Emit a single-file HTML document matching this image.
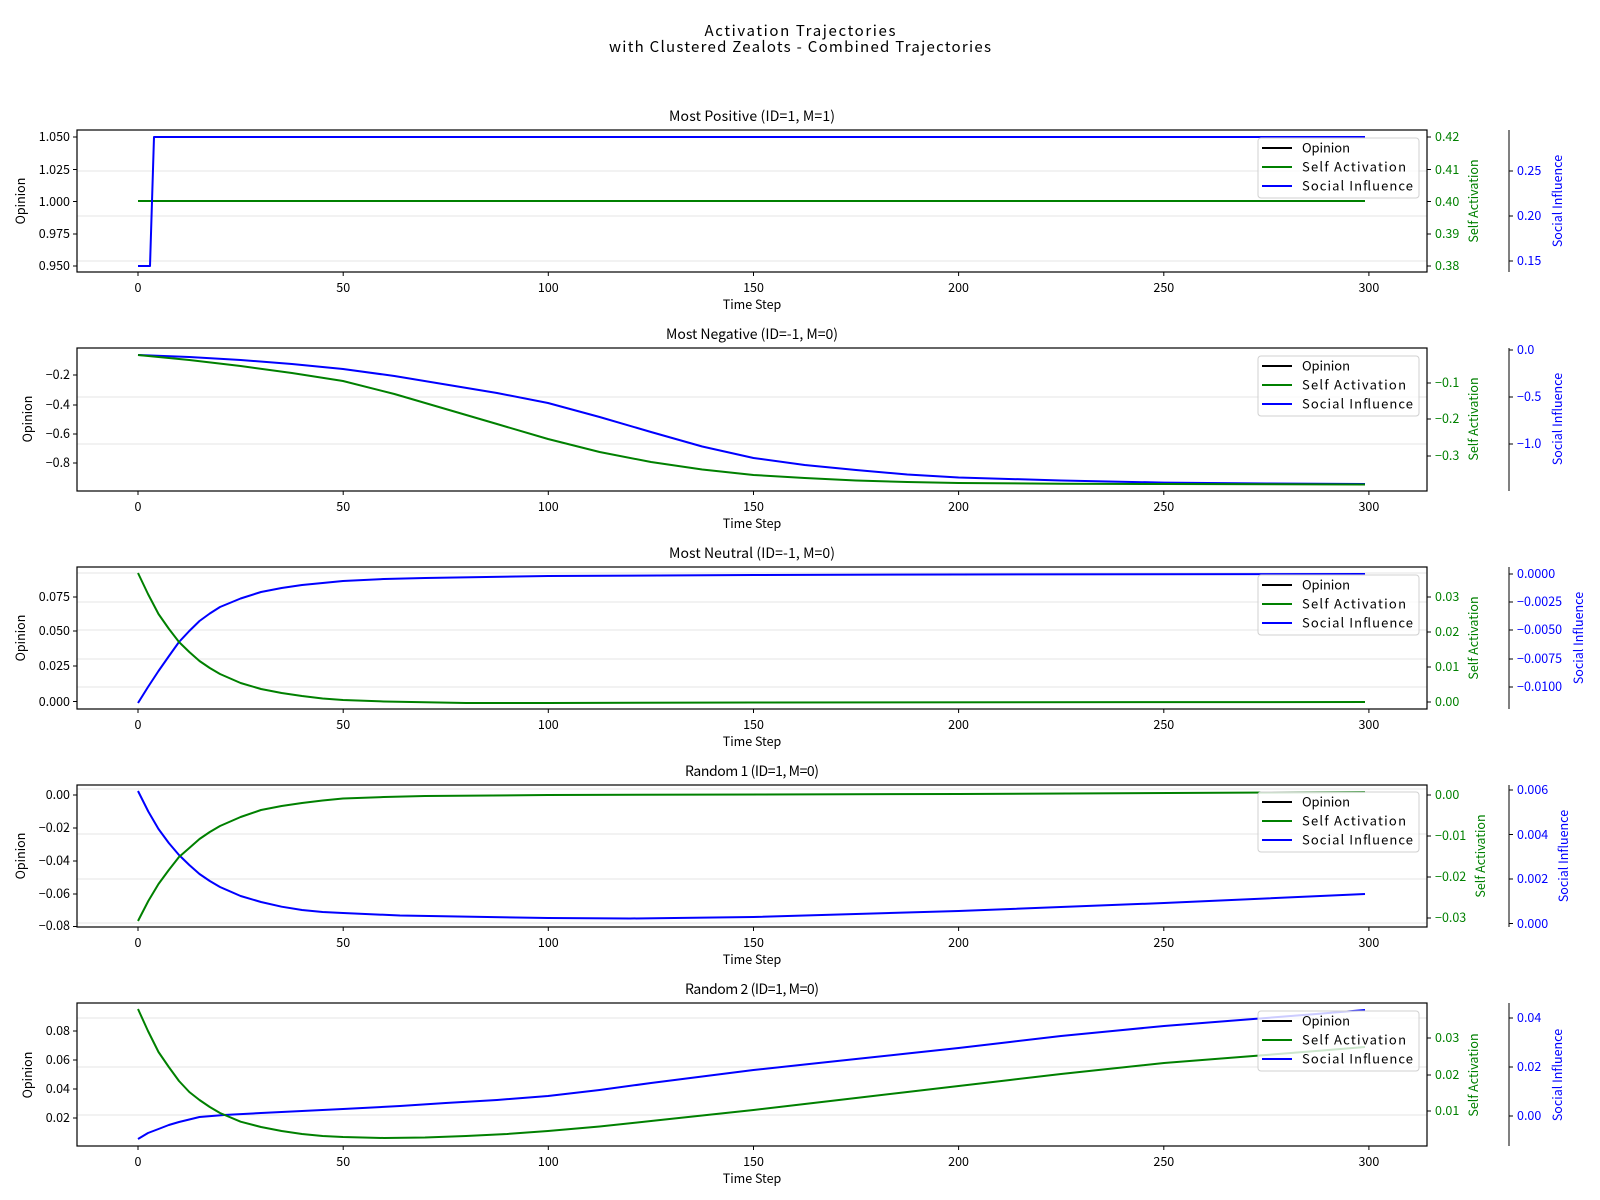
<!DOCTYPE html>
<html><head><meta charset="utf-8"><style>
html,body{margin:0;padding:0;background:#fff;}
svg{display:block;font-family:"WenQuanYi Zen Hei","Noto Sans CJK SC",sans-serif;}
.t{font-size:12.5px;fill:#000;}
.g{font-size:12.5px;fill:#008000;}
.b{font-size:12.5px;fill:#0000ff;}
.grid{stroke:#e6e6e6;stroke-width:1;}
.ax{fill:none;stroke:#000;stroke-width:1.2;}
.tk{stroke:#000;stroke-width:1;}
.cg{fill:none;stroke:#008000;stroke-width:2;stroke-linejoin:round;}
.cb{fill:none;stroke:#0000ff;stroke-width:2;stroke-linejoin:round;}
.leg{font-size:13px;fill:#000;}
</style></head><body>
<svg width="1600" height="1200" viewBox="0 0 1600 1200" xmlns="http://www.w3.org/2000/svg">
<text x="800" y="36" text-anchor="middle" style="font-size:15px" textLength="191">Activation Trajectories</text>
<text x="800" y="52" text-anchor="middle" style="font-size:15px" textLength="382">with Clustered Zealots - Combined Trajectories</text>

<!-- ================= PANEL 1 ================= -->
<g>
<line class="grid" x1="77" x2="1427" y1="171" y2="171"/><line class="grid" x1="77" x2="1427" y1="216" y2="216"/><line class="grid" x1="77" x2="1427" y1="261" y2="261"/>
<path class="cg" d="M138,201 L1365,201"/>
<path class="cb" d="M138,266 L150,266 L154,137 L1365,137"/>
<rect x="77" y="130" width="1350" height="142" class="ax"/>
<text x="752" y="121" text-anchor="middle" style="font-size:14px" textLength="166">Most Positive (ID=1, M=1)</text>
<g class="tk"><line x1="73" x2="77" y1="137" y2="137"/><line x1="73" x2="77" y1="169.5" y2="169.5"/><line x1="73" x2="77" y1="201.5" y2="201.5"/><line x1="73" x2="77" y1="234" y2="234"/><line x1="73" x2="77" y1="266" y2="266"/></g>
<g class="t" text-anchor="end"><text x="70" y="141">1.050</text><text x="70" y="174">1.025</text><text x="70" y="206">1.000</text><text x="70" y="238">0.975</text><text x="70" y="270">0.950</text></g>
<text class="t" transform="translate(25,201) rotate(-90)" text-anchor="middle">Opinion</text>
<g class="tk"><line x1="1427" x2="1431" y1="137" y2="137"/><line x1="1427" x2="1431" y1="169.5" y2="169.5"/><line x1="1427" x2="1431" y1="201.5" y2="201.5"/><line x1="1427" x2="1431" y1="234" y2="234"/><line x1="1427" x2="1431" y1="266" y2="266"/></g>
<g class="g"><text x="1435" y="141">0.42</text><text x="1435" y="174">0.41</text><text x="1435" y="206">0.40</text><text x="1435" y="238">0.39</text><text x="1435" y="270">0.38</text></g>
<text class="g" transform="translate(1478,201) rotate(-90)" text-anchor="middle">Self Activation</text>
<line class="tk" x1="1509" x2="1509" y1="130" y2="272"/>
<g class="tk"><line x1="1509" x2="1513" y1="171" y2="171"/><line x1="1509" x2="1513" y1="216" y2="216"/><line x1="1509" x2="1513" y1="261" y2="261"/></g>
<g class="b"><text x="1517" y="175">0.25</text><text x="1517" y="220">0.20</text><text x="1517" y="265">0.15</text></g>
<text class="b" transform="translate(1562,201) rotate(-90)" text-anchor="middle">Social Influence</text>
</g>

<!-- ================= PANEL 2 ================= -->
<g>
<line class="grid" x1="77" x2="1427" y1="397" y2="397"/><line class="grid" x1="77" x2="1427" y1="444" y2="444"/>
<polyline class="cb" points="138,355 189.3,357 240.6,360 291.9,364 343,369 394.4,376 445.7,384.5 497,393 548,403 599.6,417 651,432 702.2,446.5 753.5,458 804.7,465 856,470 907.3,474.5 958.6,477.5 1061.2,480.5 1164,482.6 1266.3,483.5 1365,484"/>
<polyline class="cg" points="138,355 189.3,360 240.6,366 291.9,373 343,381 394.4,394 445.7,409 497,424 548,439 599.6,452 651,462 702.2,469.5 753.5,475 804.7,478 856,480.5 907.3,482 958.6,483 1061.2,483.7 1164,484 1365,484.5"/>
<rect x="77" y="348" width="1350" height="143" class="ax"/>
<text x="752" y="339" text-anchor="middle" style="font-size:14px" textLength="172">Most Negative (ID=-1, M=0)</text>
<g class="tk"><line x1="73" x2="77" y1="375" y2="375"/><line x1="73" x2="77" y1="405" y2="405"/><line x1="73" x2="77" y1="434" y2="434"/><line x1="73" x2="77" y1="463" y2="463"/></g>
<g class="t" text-anchor="end"><text x="70" y="379">−0.2</text><text x="70" y="409">−0.4</text><text x="70" y="438">−0.6</text><text x="70" y="467">−0.8</text></g>
<text class="t" transform="translate(32,419) rotate(-90)" text-anchor="middle">Opinion</text>
<g class="tk"><line x1="1427" x2="1431" y1="383" y2="383"/><line x1="1427" x2="1431" y1="419" y2="419"/><line x1="1427" x2="1431" y1="456" y2="456"/></g>
<g class="g"><text x="1435" y="387">−0.1</text><text x="1435" y="423">−0.2</text><text x="1435" y="460">−0.3</text></g>
<text class="g" transform="translate(1478,419) rotate(-90)" text-anchor="middle">Self Activation</text>
<line class="tk" x1="1509" x2="1509" y1="348" y2="491"/>
<g class="tk"><line x1="1509" x2="1513" y1="350" y2="350"/><line x1="1509" x2="1513" y1="397" y2="397"/><line x1="1509" x2="1513" y1="444" y2="444"/></g>
<g class="b"><text x="1517" y="354">0.0</text><text x="1517" y="401">−0.5</text><text x="1517" y="448">−1.0</text></g>
<text class="b" transform="translate(1562,419) rotate(-90)" text-anchor="middle">Social Influence</text>
</g>

<!-- ================= PANEL 3 ================= -->
<g>
<line class="grid" x1="77" x2="1427" y1="573" y2="573"/><line class="grid" x1="77" x2="1427" y1="602" y2="602"/><line class="grid" x1="77" x2="1427" y1="630" y2="630"/><line class="grid" x1="77" x2="1427" y1="659" y2="659"/><line class="grid" x1="77" x2="1427" y1="687" y2="687"/>
<polyline class="cb" points="138,703 148,687 158.5,671 169,656 179,642 189.3,631 199.5,621 209.8,613.5 220,607 240.6,598.5 261,592 281.6,588 302,585 322.6,583 343,581 384,579 425,578 548,576 753.5,575 958.6,574.5 1365,574"/>
<polyline class="cg" points="138,573 148,594 158.5,614 169,629 179,642 189.3,652 199.5,661 209.8,668 220,674 240.6,683 261,689 281.6,693 302,696 322.6,698.5 343,700 384,701.5 466,703 548,703 753.5,702.5 1365,702"/>
<rect x="77" y="567" width="1350" height="142" class="ax"/>
<text x="752" y="558" text-anchor="middle" style="font-size:14px" textLength="166">Most Neutral (ID=-1, M=0)</text>
<g class="tk"><line x1="73" x2="77" y1="597" y2="597"/><line x1="73" x2="77" y1="631" y2="631"/><line x1="73" x2="77" y1="666" y2="666"/><line x1="73" x2="77" y1="701.5" y2="701.5"/></g>
<g class="t" text-anchor="end"><text x="70" y="601">0.075</text><text x="70" y="635">0.050</text><text x="70" y="670">0.025</text><text x="70" y="706">0.000</text></g>
<text class="t" transform="translate(25,638) rotate(-90)" text-anchor="middle">Opinion</text>
<g class="tk"><line x1="1427" x2="1431" y1="597" y2="597"/><line x1="1427" x2="1431" y1="632" y2="632"/><line x1="1427" x2="1431" y1="667" y2="667"/><line x1="1427" x2="1431" y1="702" y2="702"/></g>
<g class="g"><text x="1435" y="601">0.03</text><text x="1435" y="636">0.02</text><text x="1435" y="671">0.01</text><text x="1435" y="706">0.00</text></g>
<text class="g" transform="translate(1478,638) rotate(-90)" text-anchor="middle">Self Activation</text>
<line class="tk" x1="1509" x2="1509" y1="567" y2="709"/>
<g class="tk"><line x1="1509" x2="1513" y1="574" y2="574"/><line x1="1509" x2="1513" y1="602" y2="602"/><line x1="1509" x2="1513" y1="630" y2="630"/><line x1="1509" x2="1513" y1="659" y2="659"/><line x1="1509" x2="1513" y1="687" y2="687"/></g>
<g class="b"><text x="1517" y="578">0.0000</text><text x="1517" y="606">−0.0025</text><text x="1517" y="634">−0.0050</text><text x="1517" y="663">−0.0075</text><text x="1517" y="691">−0.0100</text></g>
<text class="b" transform="translate(1583,638) rotate(-90)" text-anchor="middle">Social Influence</text>
</g>

<!-- ================= PANEL 4 ================= -->
<g>
<line class="grid" x1="77" x2="1427" y1="789" y2="789"/><line class="grid" x1="77" x2="1427" y1="834" y2="834"/><line class="grid" x1="77" x2="1427" y1="879" y2="879"/><line class="grid" x1="77" x2="1427" y1="923" y2="923"/>
<polyline class="cb" points="138,791 148.3,811.5 158.5,829 168.8,843 179,855 189.3,865 199.5,874 209.8,881 220,887 240.6,896 261,902 281.6,906.7 302,910 322.6,912 343,913 400,915.5 548,918 630,918.5 753.5,917 958.6,911 1164,903 1365,894"/>
<polyline class="cg" points="138,921 148.3,901 158.5,884 168.8,870 179,857 189.3,848 199.5,839 209.8,832 220,826 240.6,817 261,810 281.6,806 302,803 322.6,800.5 343,798.5 384,797 425,796 548,795 958.6,794 1365,792"/>
<rect x="77" y="785" width="1350" height="142" class="ax"/>
<text x="752" y="776" text-anchor="middle" style="font-size:14px" textLength="134">Random 1 (ID=1, M=0)</text>
<g class="tk"><line x1="73" x2="77" y1="795" y2="795"/><line x1="73" x2="77" y1="828" y2="828"/><line x1="73" x2="77" y1="861" y2="861"/><line x1="73" x2="77" y1="894" y2="894"/><line x1="73" x2="77" y1="926.5" y2="926.5"/></g>
<g class="t" text-anchor="end"><text x="70" y="799">0.00</text><text x="70" y="832">−0.02</text><text x="70" y="865">−0.04</text><text x="70" y="898">−0.06</text><text x="70" y="930">−0.08</text></g>
<text class="t" transform="translate(25,856) rotate(-90)" text-anchor="middle">Opinion</text>
<g class="tk"><line x1="1427" x2="1431" y1="795" y2="795"/><line x1="1427" x2="1431" y1="836" y2="836"/><line x1="1427" x2="1431" y1="877" y2="877"/><line x1="1427" x2="1431" y1="918" y2="918"/></g>
<g class="g"><text x="1435" y="799">0.00</text><text x="1435" y="840">−0.01</text><text x="1435" y="881">−0.02</text><text x="1435" y="922">−0.03</text></g>
<text class="g" transform="translate(1485,856) rotate(-90)" text-anchor="middle">Self Activation</text>
<line class="tk" x1="1509" x2="1509" y1="785" y2="927"/>
<g class="tk"><line x1="1509" x2="1513" y1="790" y2="790"/><line x1="1509" x2="1513" y1="834.5" y2="834.5"/><line x1="1509" x2="1513" y1="879" y2="879"/><line x1="1509" x2="1513" y1="923.5" y2="923.5"/></g>
<g class="b"><text x="1517" y="794">0.006</text><text x="1517" y="839">0.004</text><text x="1517" y="883">0.002</text><text x="1517" y="928">0.000</text></g>
<text class="b" transform="translate(1568,856) rotate(-90)" text-anchor="middle">Social Influence</text>
</g>

<!-- ================= PANEL 5 ================= -->
<g>
<line class="grid" x1="77" x2="1427" y1="1018" y2="1018"/><line class="grid" x1="77" x2="1427" y1="1067" y2="1067"/><line class="grid" x1="77" x2="1427" y1="1115" y2="1115"/>
<polyline class="cb" points="138,1139 143,1136 148,1133 158.5,1129 168.8,1125 179,1122 189.3,1119.5 199.5,1117 224,1115 261,1113 302,1111 343,1109 400,1106 445.7,1103 497,1100 548,1096 599.6,1090 651,1083 702.2,1076.5 753.5,1070 804.7,1064.5 856,1059 907.3,1053.5 958.6,1048 1010,1042 1061,1036 1112.5,1031 1164,1026 1215,1022 1266,1018 1316,1014 1365,1010"/>
<polyline class="cg" points="138,1009 148,1031 158.5,1052 168.8,1067 179,1081 189.3,1092 199.5,1100 209.8,1107 220,1113 240.6,1121.7 261,1127 281.6,1131 302,1134 322.6,1136 343,1137 384,1138 425,1137.5 466,1136 507,1134 548,1131 599.6,1126.5 651,1121 702.2,1115.5 753.5,1110 804.7,1104 856,1098 907.3,1092 958.6,1086 1010,1080 1061,1074 1112.5,1068.5 1164,1063 1215,1059 1266,1055 1316,1051 1365,1047"/>
<rect x="77" y="1003" width="1350" height="143" class="ax"/>
<text x="752" y="994" text-anchor="middle" style="font-size:14px" textLength="134">Random 2 (ID=1, M=0)</text>
<g class="tk"><line x1="73" x2="77" y1="1031" y2="1031"/><line x1="73" x2="77" y1="1060" y2="1060"/><line x1="73" x2="77" y1="1089" y2="1089"/><line x1="73" x2="77" y1="1118" y2="1118"/></g>
<g class="t" text-anchor="end"><text x="70" y="1035">0.08</text><text x="70" y="1064">0.06</text><text x="70" y="1093">0.04</text><text x="70" y="1122">0.02</text></g>
<text class="t" transform="translate(32,1075) rotate(-90)" text-anchor="middle">Opinion</text>
<g class="tk"><line x1="1427" x2="1431" y1="1038" y2="1038"/><line x1="1427" x2="1431" y1="1075" y2="1075"/><line x1="1427" x2="1431" y1="1111" y2="1111"/></g>
<g class="g"><text x="1435" y="1042">0.03</text><text x="1435" y="1079">0.02</text><text x="1435" y="1115">0.01</text></g>
<text class="g" transform="translate(1478,1075) rotate(-90)" text-anchor="middle">Self Activation</text>
<line class="tk" x1="1509" x2="1509" y1="1003" y2="1146"/>
<g class="tk"><line x1="1509" x2="1513" y1="1018" y2="1018"/><line x1="1509" x2="1513" y1="1067" y2="1067"/><line x1="1509" x2="1513" y1="1116" y2="1116"/></g>
<g class="b"><text x="1517" y="1022">0.04</text><text x="1517" y="1071">0.02</text><text x="1517" y="1120">0.00</text></g>
<text class="b" transform="translate(1562,1075) rotate(-90)" text-anchor="middle">Social Influence</text>
</g>

<!-- x ticks and labels for all panels -->
<g id="xt">
<g class="tk">
<line x1="138" x2="138" y1="272" y2="276"/><line x1="343.2" x2="343.2" y1="272" y2="276"/><line x1="548.3" x2="548.3" y1="272" y2="276"/><line x1="753.5" x2="753.5" y1="272" y2="276"/><line x1="958.6" x2="958.6" y1="272" y2="276"/><line x1="1163.8" x2="1163.8" y1="272" y2="276"/><line x1="1368.9" x2="1368.9" y1="272" y2="276"/>
</g>
<g class="t" text-anchor="middle">
<text x="138" y="292">0</text><text x="343.2" y="292">50</text><text x="548.3" y="292">100</text><text x="753.5" y="292">150</text><text x="958.6" y="292">200</text><text x="1163.8" y="292">250</text><text x="1368.9" y="292">300</text>
<text x="752" y="309">Time Step</text>
</g>
</g>
<use href="#xt" y="219"/>
<use href="#xt" y="437"/>
<use href="#xt" y="655"/>
<use href="#xt" y="874"/>

<!-- legends -->
<g id="lg">
<rect x="1258" y="138" width="161" height="60" rx="3" fill="#fff" fill-opacity="0.8" stroke="#d0d0d0"/>
<line x1="1262" x2="1292" y1="148" y2="148" stroke="#000" stroke-width="2"/>
<line x1="1262" x2="1292" y1="167" y2="167" stroke="#008000" stroke-width="2"/>
<line x1="1262" x2="1292" y1="186" y2="186" stroke="#0000ff" stroke-width="2"/>
<text class="leg" x="1302" y="152.5" textLength="48">Opinion</text>
<text class="leg" x="1302" y="171.5" textLength="104">Self Activation</text>
<text class="leg" x="1302" y="190.5" textLength="111">Social Influence</text>
</g>
<use href="#lg" y="218"/>
<use href="#lg" y="437"/>
<use href="#lg" y="654"/>
<use href="#lg" y="873"/>
</svg>
</body></html>
